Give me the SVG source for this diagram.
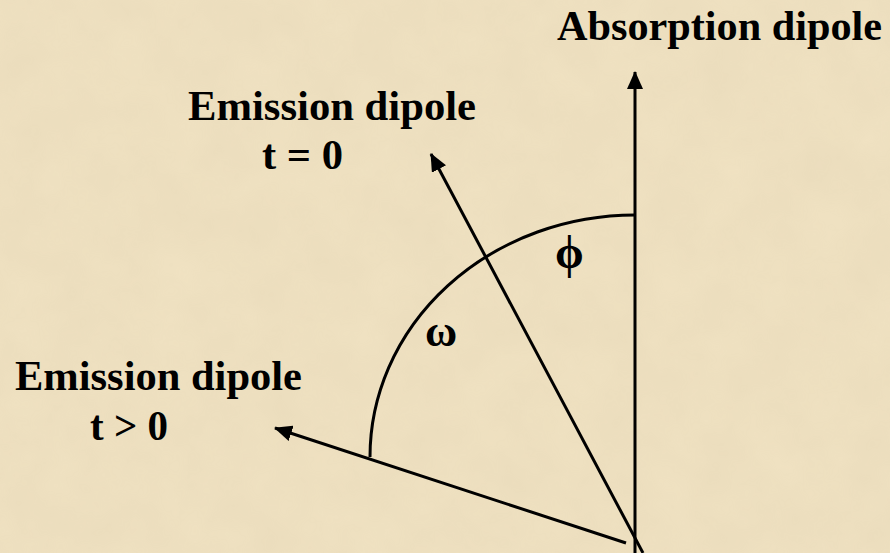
<svg xmlns="http://www.w3.org/2000/svg" width="890" height="553" viewBox="0 0 890 553">
<defs>
<style>
.t{font-family:"Liberation Serif","Times New Roman",serif;font-weight:bold;font-size:43px;fill:#000}
.g{font-family:"Liberation Serif","Times New Roman",serif;font-weight:bold;fill:#000}
.ln{stroke:#000;stroke-width:3;fill:none}
</style>
<marker id="ah" viewBox="0 0 18 16" refX="17" refY="8" markerWidth="18" markerHeight="16" markerUnits="userSpaceOnUse" orient="auto">
<path d="M0,0 L18,8 L0,16 Z" fill="#000"/>
</marker>
<filter id="tex" x="0" y="0" width="100%" height="100%">
<feTurbulence type="fractalNoise" baseFrequency="0.02" numOctaves="4" seed="3"/>
<feColorMatrix type="matrix" values="0 0 0 0 0.55  0 0 0 0 0.45  0 0 0 0 0.3  0 0 0 0.35 0"/>
</filter>
</defs>
<rect width="890" height="553" fill="#F0E2C2"/>
<rect width="890" height="553" filter="url(#tex)" opacity="0.35"/>
<g id="connectors">
<line id="absorption-axis" class="ln" x1="635" y1="553" x2="635" y2="72" marker-end="url(#ah)"/>
<line id="emission-t0" class="ln" x1="643" y1="553" x2="431" y2="154" marker-end="url(#ah)"/>
<line id="emission-t" class="ln" x1="626" y1="543" x2="275" y2="428" marker-end="url(#ah)"/>
<path id="angle-arc" class="ln" d="M635,215 A265,242 0 0 0 370,457"/>
</g>
<g id="absorption-label"><text class="t" x="557" y="40" textLength="325" lengthAdjust="spacingAndGlyphs">Absorption dipole</text></g>
<g id="emission-t0-label"><text class="t" x="188" y="120" textLength="288" lengthAdjust="spacingAndGlyphs">Emission dipole</text><text class="t" x="262" y="169" textLength="81" lengthAdjust="spacingAndGlyphs">t = 0</text></g>
<g id="emission-t-label"><text class="t" x="15" y="390" textLength="287" lengthAdjust="spacingAndGlyphs">Emission dipole</text><text class="t" x="90" y="440" textLength="78" lengthAdjust="spacingAndGlyphs">t &gt; 0</text></g>
<g id="phi-label"><text class="g" x="555" y="268" font-size="46">ϕ</text></g>
<g id="omega-label"><text class="g" x="425" y="346" font-size="44">ω</text></g>
</svg>
